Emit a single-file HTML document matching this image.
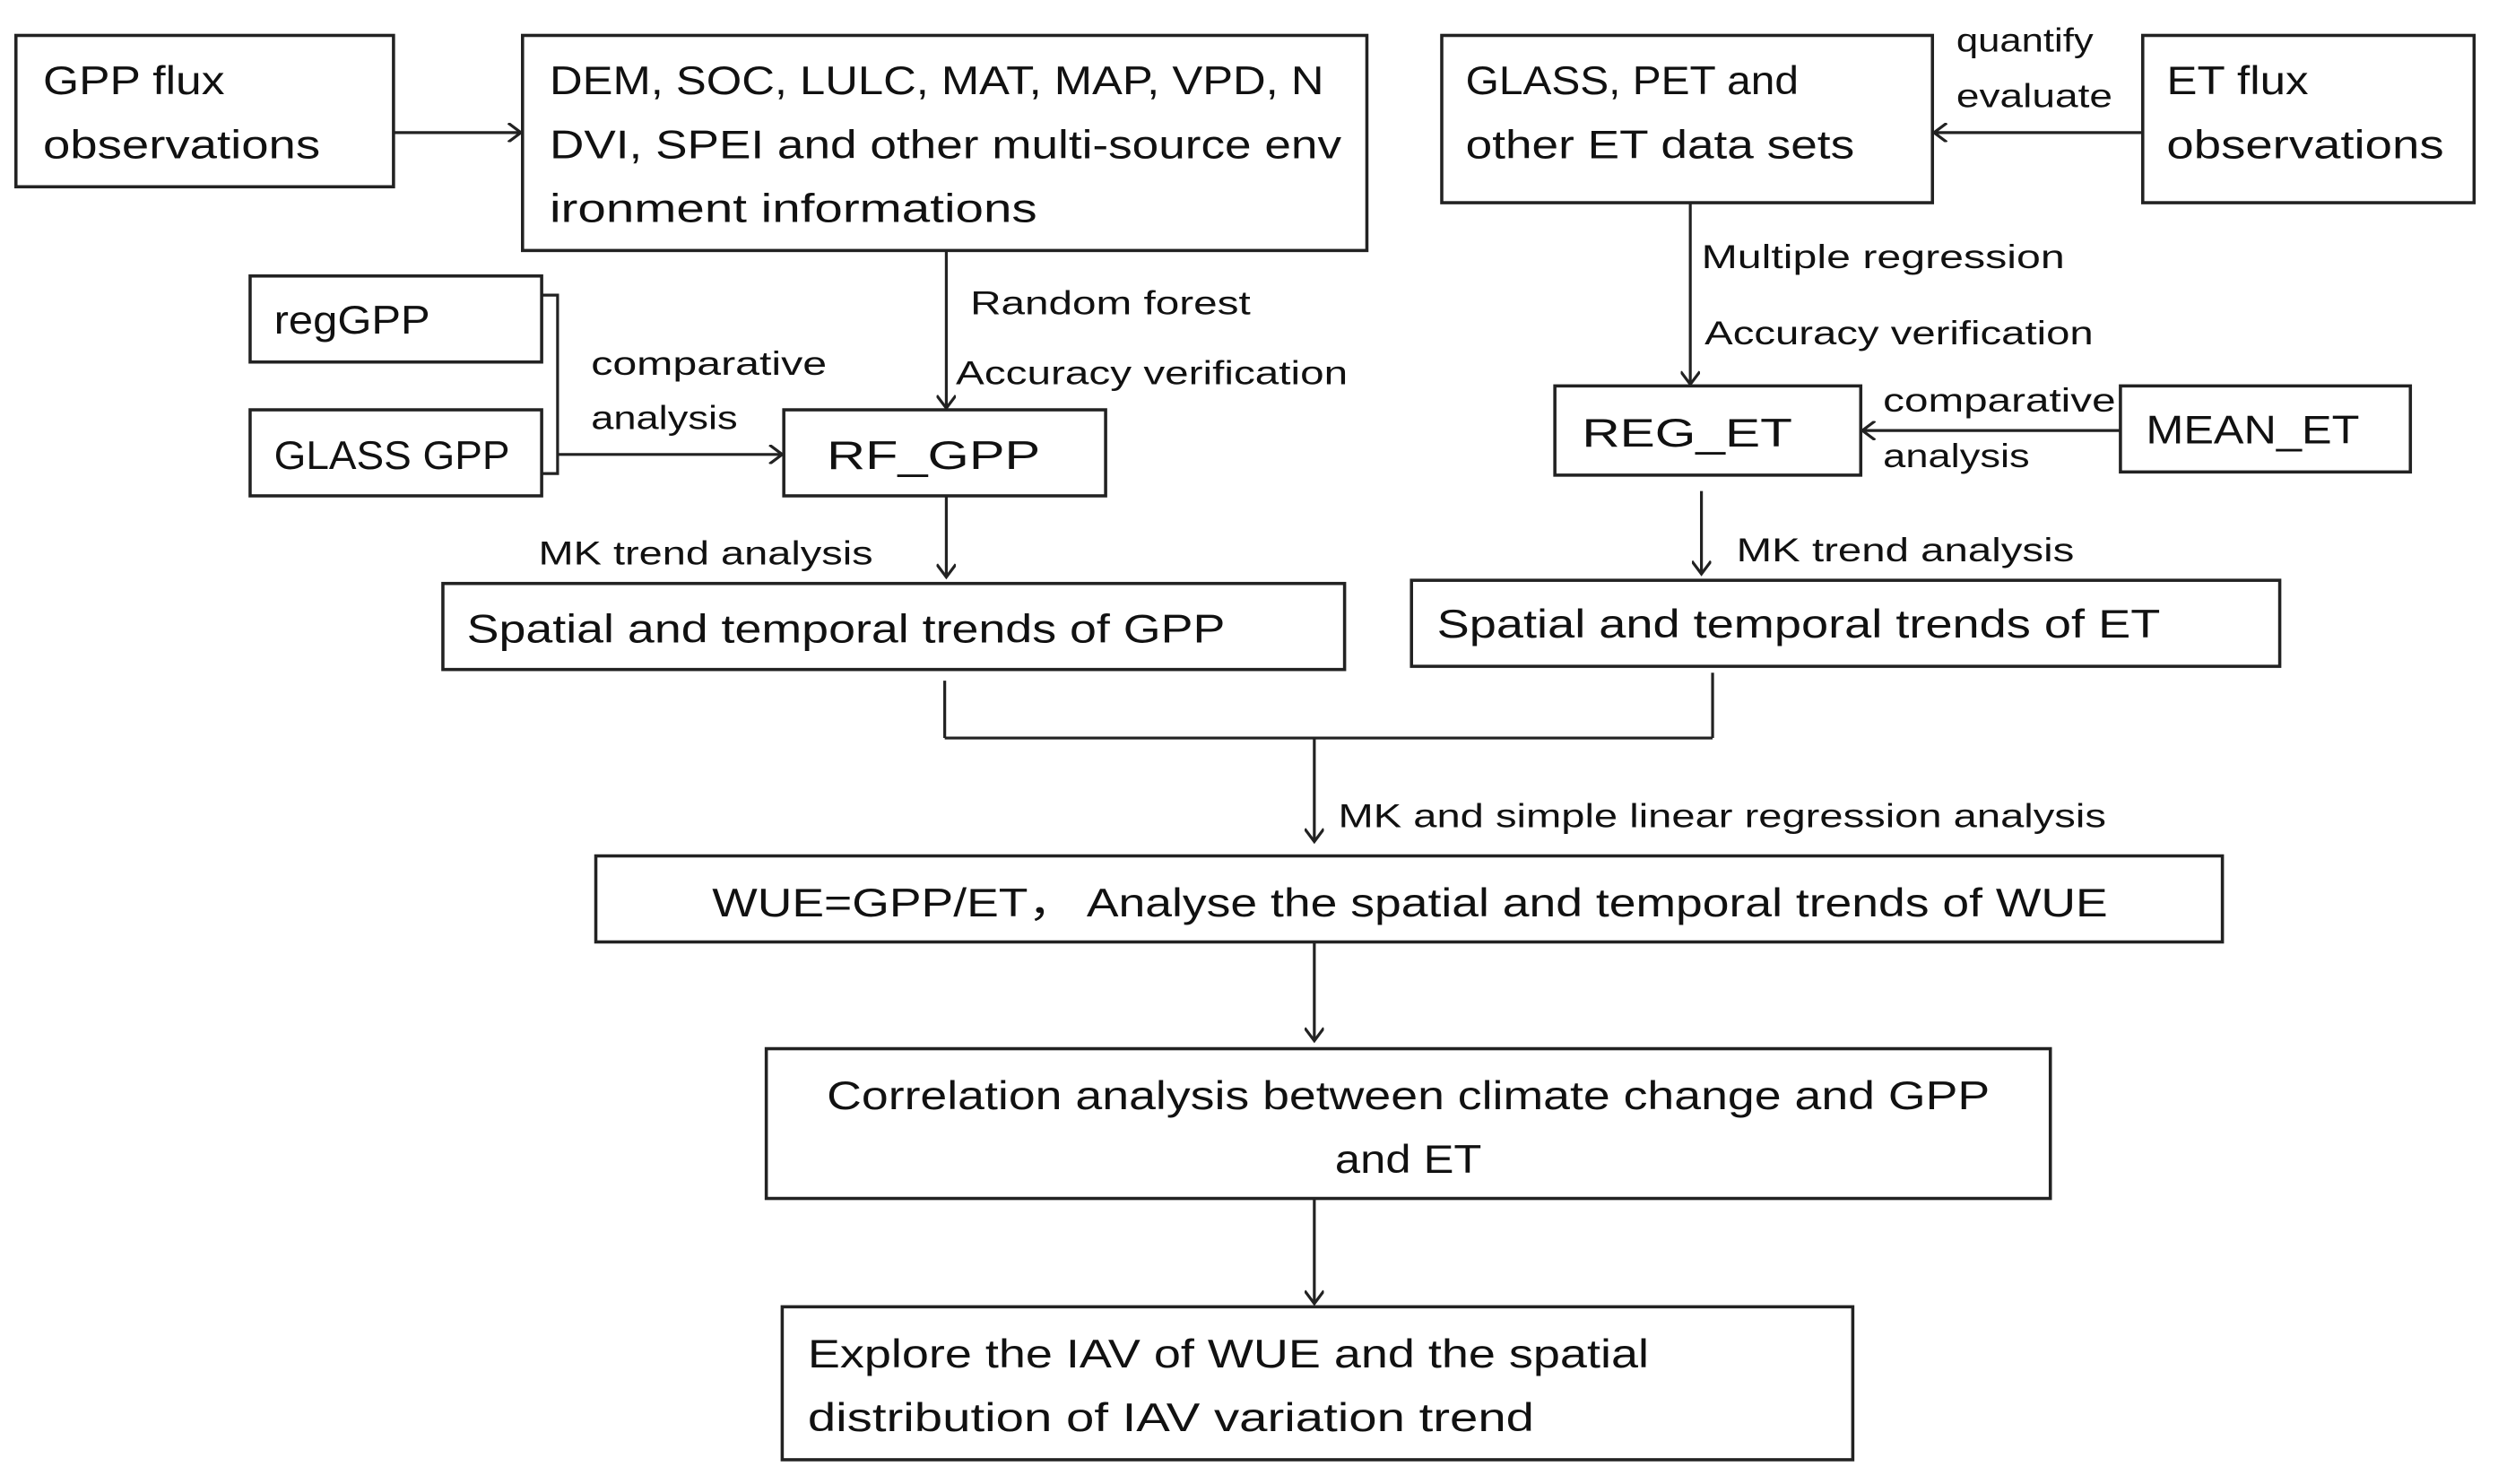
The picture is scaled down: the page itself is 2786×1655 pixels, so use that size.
<!DOCTYPE html>
<html><head><meta charset="utf-8"><style>
html,body{margin:0;padding:0;background:#fff;}
svg{display:block;}
text{font-family:"Liberation Sans",sans-serif;fill:#111;}
.b{font-size:25px;}
.s{font-size:21px;}
rect{fill:#fff;stroke:#222;stroke-width:2;}
line,polyline{stroke:#222;stroke-width:1.8;fill:none;}
</style></head><body>
<svg width="2786" height="1655" viewBox="0 0 1568 931" xmlns="http://www.w3.org/2000/svg">
<defs><marker id="a" markerWidth="12" markerHeight="12" refX="10" refY="6" orient="auto" markerUnits="userSpaceOnUse"><polyline points="2,0 10,6 2,12" style="stroke:#222;stroke-width:1.8;fill:none"/></marker></defs>
<!-- boxes -->
<rect x="10" y="22" width="237" height="95"/>
<text class="b" x="27" y="59" textLength="114" lengthAdjust="spacingAndGlyphs">GPP flux</text>
<text class="b" x="27" y="99" textLength="174" lengthAdjust="spacingAndGlyphs">observations</text>
<rect x="328" y="22" width="530" height="135"/>
<text class="b" x="345" y="59" textLength="486" lengthAdjust="spacingAndGlyphs">DEM, SOC, LULC, MAT, MAP, VPD, N</text>
<text class="b" x="345" y="99" textLength="497" lengthAdjust="spacingAndGlyphs">DVI, SPEI and other multi-source env</text>
<text class="b" x="345" y="139" textLength="306" lengthAdjust="spacingAndGlyphs">ironment informations</text>
<rect x="905" y="22" width="308" height="105"/>
<text class="b" x="920" y="59" textLength="209" lengthAdjust="spacingAndGlyphs">GLASS, PET and</text>
<text class="b" x="920" y="99" textLength="244" lengthAdjust="spacingAndGlyphs">other ET data sets</text>
<rect x="1345" y="22" width="208" height="105"/>
<text class="b" x="1360" y="59" textLength="89" lengthAdjust="spacingAndGlyphs">ET flux</text>
<text class="b" x="1360" y="99" textLength="174" lengthAdjust="spacingAndGlyphs">observations</text>
<rect x="157" y="173" width="183" height="54"/>
<text class="b" x="172" y="209" textLength="98" lengthAdjust="spacingAndGlyphs">regGPP</text>
<rect x="157" y="257" width="183" height="54"/>
<text class="b" x="172" y="294" textLength="148" lengthAdjust="spacingAndGlyphs">GLASS GPP</text>
<rect x="492" y="257" width="202" height="54"/>
<text class="b" x="519" y="294" textLength="134" lengthAdjust="spacingAndGlyphs">RF_GPP</text>
<rect x="976" y="242" width="192" height="56"/>
<text class="b" x="993" y="280" textLength="132" lengthAdjust="spacingAndGlyphs">REG_ET</text>
<rect x="1331" y="242" width="182" height="54"/>
<text class="b" x="1347" y="278" textLength="134" lengthAdjust="spacingAndGlyphs">MEAN_ET</text>
<rect x="278" y="366" width="566" height="54"/>
<text class="b" x="293" y="403" textLength="476" lengthAdjust="spacingAndGlyphs">Spatial and temporal trends of GPP</text>
<rect x="886" y="364" width="545" height="54"/>
<text class="b" x="902" y="400" textLength="454" lengthAdjust="spacingAndGlyphs">Spatial and temporal trends of ET</text>
<rect x="374" y="537" width="1021" height="54"/>
<text class="b" x="447" y="575" textLength="876" lengthAdjust="spacingAndGlyphs">WUE=GPP/ET，  Analyse the spatial and temporal trends of WUE</text>
<rect x="481" y="658" width="806" height="94"/>
<text class="b" x="519" y="696" textLength="730" lengthAdjust="spacingAndGlyphs">Correlation analysis between climate change and GPP</text>
<text class="b" x="838" y="736" textLength="92" lengthAdjust="spacingAndGlyphs">and ET</text>
<rect x="491" y="820" width="672" height="96"/>
<text class="b" x="507" y="858" textLength="528" lengthAdjust="spacingAndGlyphs">Explore the IAV of WUE and the spatial</text>
<text class="b" x="507" y="898" textLength="456" lengthAdjust="spacingAndGlyphs">distribution of IAV variation trend</text>
<!-- connectors -->
<line x1="247" y1="83" x2="327" y2="83" marker-end="url(#a)"/>
<line x1="594" y1="157" x2="594" y2="256" marker-end="url(#a)"/>
<text class="s" x="609" y="197" textLength="176" lengthAdjust="spacingAndGlyphs">Random forest</text>
<text class="s" x="600" y="241" textLength="246" lengthAdjust="spacingAndGlyphs">Accuracy verification</text>
<polyline points="340,185 350,185 350,297 340,297"/>
<line x1="350" y1="285" x2="491" y2="285" marker-end="url(#a)"/>
<text class="s" x="371" y="235" textLength="148" lengthAdjust="spacingAndGlyphs">comparative</text>
<text class="s" x="371" y="269" textLength="92" lengthAdjust="spacingAndGlyphs">analysis</text>
<line x1="594" y1="311" x2="594" y2="362" marker-end="url(#a)"/>
<text class="s" x="338" y="354" textLength="210" lengthAdjust="spacingAndGlyphs">MK trend analysis</text>
<line x1="1345" y1="83" x2="1214" y2="83" marker-end="url(#a)"/>
<text class="s" x="1228" y="32" textLength="86" lengthAdjust="spacingAndGlyphs">quantify</text>
<text class="s" x="1228" y="67" textLength="98" lengthAdjust="spacingAndGlyphs">evaluate</text>
<line x1="1061" y1="127" x2="1061" y2="241" marker-end="url(#a)"/>
<text class="s" x="1068" y="168" textLength="228" lengthAdjust="spacingAndGlyphs">Multiple regression</text>
<text class="s" x="1070" y="216" textLength="244" lengthAdjust="spacingAndGlyphs">Accuracy verification</text>
<line x1="1331" y1="270" x2="1169" y2="270" marker-end="url(#a)"/>
<text class="s" x="1182" y="258" textLength="146" lengthAdjust="spacingAndGlyphs">comparative</text>
<text class="s" x="1182" y="293" textLength="92" lengthAdjust="spacingAndGlyphs">analysis</text>
<line x1="1068" y1="308" x2="1068" y2="360" marker-end="url(#a)"/>
<text class="s" x="1090" y="352" textLength="212" lengthAdjust="spacingAndGlyphs">MK trend analysis</text>
<line x1="593" y1="427" x2="593" y2="463"/>
<line x1="1075" y1="422" x2="1075" y2="463"/>
<line x1="593" y1="463" x2="1075" y2="463"/>
<line x1="825" y1="463" x2="825" y2="528" marker-end="url(#a)"/>
<text class="s" x="840" y="519" textLength="482" lengthAdjust="spacingAndGlyphs">MK and simple linear regression analysis</text>
<line x1="825" y1="591" x2="825" y2="653" marker-end="url(#a)"/>
<line x1="825" y1="752" x2="825" y2="818" marker-end="url(#a)"/>
</svg>
</body></html>
